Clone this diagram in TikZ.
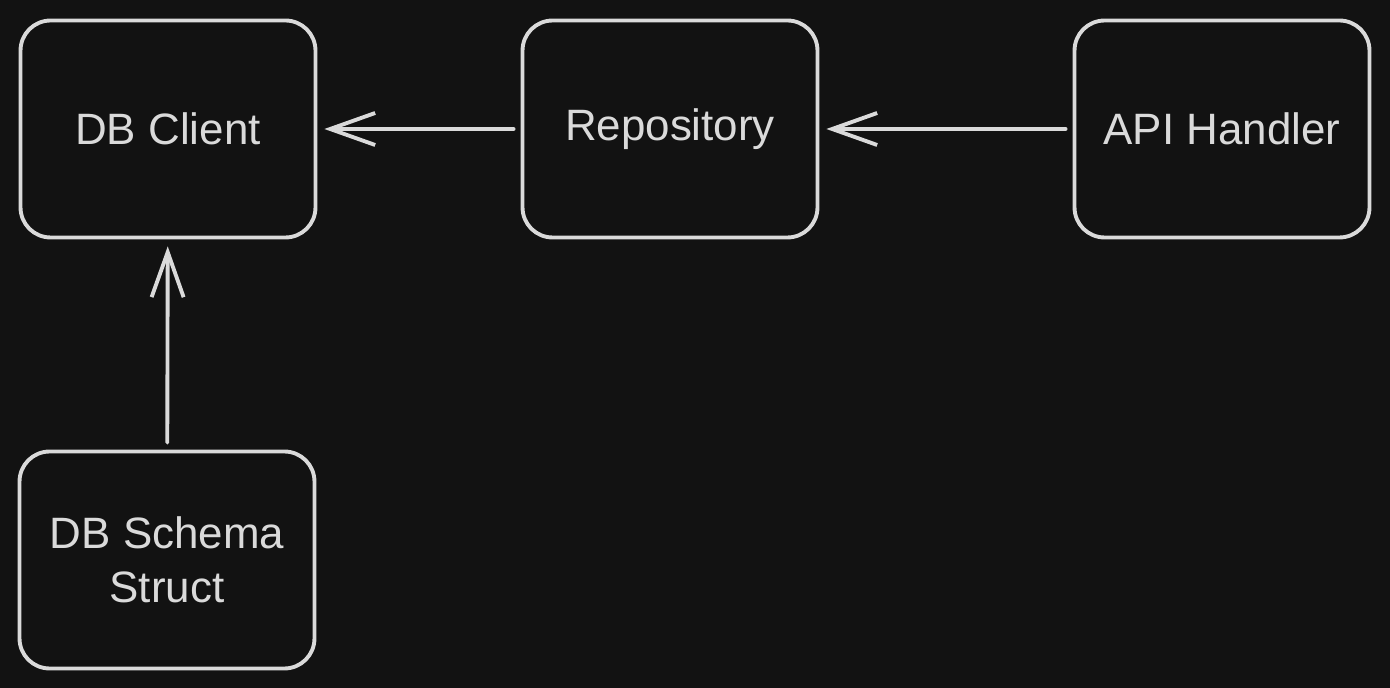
\documentclass[tikz,border=0pt]{standalone}
\usepackage{fontspec}
\setmainfont{Liberation Sans}
\usetikzlibrary{arrows.meta}
\definecolor{canvas}{HTML}{121212}
\definecolor{ink}{HTML}{DADADA}
\tikzset{
  box/.style={draw=ink, line width=2.2pt, rounded corners=0.6cm,
    minimum width=5.9cm, minimum height=4.34cm, text=ink,
    align=center, font=\fontsize{25}{31}\selectfont},
  link/.style={draw=ink, line width=2.2pt, line cap=round,
    -{Straight Barb[length=0.9cm, width=0.64cm, line width=2.2pt]},
    shorten >=0.14cm, shorten <=0.14cm}
}
\begin{document}
\begin{tikzpicture}[x=0.02cm, y=-0.02cm]
  \fill[canvas] (0,0) rectangle (1390,688);
  \useasboundingbox (0,0) rectangle (1390,688);
  \node[box] (client)  at (168,129)  {DB Client};
  \node[box] (repo)    at (670,129)  {Repository};
  \node[box] (api)     at (1222,129) {API Handler};
  \node[box] (schema)  at (167,560)  {DB Schema\\ Struct};
  \draw[link] (repo)   -- (client);
  \draw[link] (api)    -- (repo);
  \draw[link] (schema) -- (client);
\end{tikzpicture}
\end{document}
